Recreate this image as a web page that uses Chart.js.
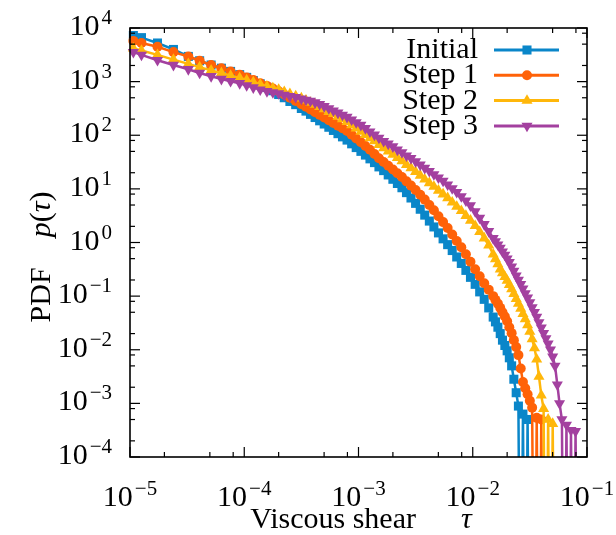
<!DOCTYPE html>
<html>
<head>
<meta charset="utf-8">
<script src="https://cdn.jsdelivr.net/npm/chart.js@4.4.1/dist/chart.umd.min.js"></script>
<style>
  html, body { margin: 0; padding: 0; background: #fff; }
  canvas { display: block; }
</style>
</head>
<body>
<canvas id="pdfChart" width="616" height="535"></canvas>
<script>
// Bin centres (viscous shear tau), shared by all four histograms
const tau = [
    1.07e-5, 1.26e-5, 1.74e-5, 2.40e-5, 3.24e-5, 4.07e-5, 5.13e-5, 6.31e-5, 7.59e-5, 9.12e-5,
    1.05e-4, 1.20e-4, 1.38e-4, 1.58e-4, 1.78e-4, 2.00e-4, 2.24e-4, 2.51e-4, 2.82e-4, 3.16e-4,
    3.47e-4, 3.80e-4, 4.17e-4, 4.57e-4, 5.01e-4, 5.50e-4, 6.03e-4, 6.61e-4, 7.24e-4, 7.94e-4,
    8.71e-4, 9.55e-4, 1.05e-3, 1.15e-3, 1.26e-3, 1.38e-3, 1.51e-3, 1.66e-3, 1.82e-3, 2.00e-3,
    2.19e-3, 2.40e-3, 2.63e-3, 2.88e-3, 3.16e-3, 3.47e-3, 3.80e-3, 4.17e-3, 4.57e-3, 5.01e-3,
    5.50e-3, 6.03e-3, 6.61e-3, 7.24e-3, 7.94e-3, 8.71e-3, 9.55e-3, 1.05e-2, 1.15e-2, 1.26e-2,
    1.38e-2, 1.51e-2, 1.58e-2, 1.66e-2, 1.74e-2, 1.82e-2, 1.91e-2, 2.00e-2, 2.09e-2, 2.19e-2,
    2.29e-2, 2.40e-2, 2.51e-2, 2.63e-2, 2.75e-2, 2.88e-2, 3.02e-2, 3.16e-2, 3.31e-2, 3.47e-2,
    3.63e-2, 3.80e-2, 3.98e-2, 4.17e-2, 4.37e-2, 4.57e-2, 4.79e-2, 5.01e-2, 5.25e-2, 5.50e-2,
    5.75e-2, 6.03e-2, 6.31e-2, 6.61e-2, 6.92e-2, 7.24e-2, 7.59e-2, 7.94e-2, 8.32e-2
];

// PDF values per bin (0 = empty bin, drawn as a drop to the bottom axis)
const initialPdf = [
    7.24e3, 6.61e3, 5.25e3, 3.98e3, 2.95e3, 2.45e3, 2.04e3, 1.78e3, 1.55e3, 1.35e3,
    1.20e3, 1.05e3, 912, 776, 676, 575, 501, 427, 372, 316,
    282, 245, 214, 186, 162, 141, 123, 107, 93.3, 81.3,
    69.2, 58.9, 50.1, 42.7, 36.3, 30.9, 25.7, 21.9, 18.2, 15.1,
    12.6, 10.5, 8.51, 6.76, 5.37, 4.17, 3.24, 2.51, 1.95, 1.51,
    1.17, 0.912, 0.708, 0.537, 0.407, 0.302, 0.224, 0.166, 0.120, 0.0871,
    0.0603, 0.0407, 0.0331, 0.0263, 0.0200, 0.0151, 0.0120, 0.00955, 0.00708, 0.00501,
    0.00282, 0.00158, 8.91e-4, 0, 6.31e-4, 0, 5.01e-4, 0
];
const step1Pdf = [
    5.75e3, 5.25e3, 4.47e3, 3.55e3, 2.95e3, 2.45e3, 2.04e3, 1.78e3, 1.55e3, 1.35e3,
    1.20e3, 1.07e3, 933, 832, 741, 661, 575, 501, 437, 380,
    339, 302, 269, 240, 214, 191, 170, 151, 135, 120,
    102, 87.1, 74.1, 63.1, 53.7, 44.7, 37.2, 31.6, 26.9, 22.9,
    19.5, 16.6, 13.8, 11.5, 9.55, 7.76, 6.31, 5.01, 3.98, 3.09,
    2.40, 1.86, 1.41, 1.07, 0.813, 0.603, 0.437, 0.316, 0.234, 0.174,
    0.132, 0.100, 0.0851, 0.0724, 0.0603, 0.0501, 0.0417, 0.0339, 0.0263, 0.0204,
    0.0151, 0.0112, 0.00794, 0.00447, 0.00251, 0.00191, 0.00148, 0.00112, 8.32e-4, 0,
    5.37e-4, 0, 5.01e-4, 0
];
const step2Pdf = [
    4.17e3, 3.80e3, 3.16e3, 2.57e3, 2.14e3, 1.86e3, 1.62e3, 1.45e3, 1.29e3, 1.17e3,
    1.07e3, 977, 891, 813, 759, 708, 646, 589, 537, 490,
    447, 407, 372, 339, 309, 275, 251, 224, 200, 178,
    155, 135, 117, 102, 89.1, 77.6, 66.1, 57.5, 50.1, 43.7,
    38.0, 33.1, 28.2, 24.5, 20.9, 17.8, 15.1, 12.9, 11.0, 9.33,
    7.94, 6.76, 5.62, 4.68, 3.89, 3.16, 2.57, 2.04, 1.58, 1.20,
    0.891, 0.603, 0.490, 0.398, 0.316, 0.269, 0.229, 0.195, 0.162, 0.135,
    0.110, 0.0891, 0.0724, 0.0589, 0.0468, 0.0372, 0.0288, 0.0219, 0.0158, 0.0107,
    0.00661, 0.00316, 0.00141, 7.94e-4, 0, 5.01e-4, 0, 4.17e-4, 0
];
const step3Pdf = [
    3.55e3, 3.16e3, 2.51e3, 2.04e3, 1.70e3, 1.45e3, 1.26e3, 1.12e3, 1.02e3, 933,
    851, 776, 708, 661, 631, 603, 562, 537, 513, 479,
    457, 437, 407, 380, 347, 316, 288, 263, 240, 219,
    195, 174, 155, 135, 117, 102, 89.1, 77.6, 69.2, 61.7,
    53.7, 47.9, 41.7, 37.2, 32.4, 28.2, 24.5, 21.4, 18.6, 16.2,
    14.1, 12.0, 10.2, 8.71, 7.24, 6.03, 4.90, 3.80, 2.88, 2.19,
    1.62, 1.20, 1.05, 0.912, 0.794, 0.676, 0.589, 0.501, 0.427, 0.355,
    0.295, 0.240, 0.200, 0.166, 0.138, 0.112, 0.0933, 0.0759, 0.0617, 0.0501,
    0.0407, 0.0324, 0.0257, 0.0204, 0.0162, 0.0129, 0.0100, 0.00741, 0.00501, 0.00224,
    0.00100, 5.01e-4, 0, 3.98e-4, 0, 3.16e-4, 0, 3.02e-4, 0
];

const seriesNames = ['Initial', 'Step 1', 'Step 2', 'Step 3'];
const seriesValues = [initialPdf, step1Pdf, step2Pdf, step3Pdf];

// Decade exponents for the tick labels, and the minor tick mantissas
const xTickExponents = [-5, -4, -3, -2, -1];
const yTickExponents = [-4, -3, -2, -1, 0, 1, 2, 3, 4];
const minorMantissas = [2, 5, 8];

const colors = ['#0a86c9', '#ff6208', '#ffb70a', '#a3409f'];
const markers = [
    { style: 'rect', radius: 6.4, rotation: 0 },
    { style: 'circle', radius: 5, rotation: 0 },
    { style: 'triangle', radius: 6.4, rotation: 0 },
    { style: 'triangle', radius: 6.4, rotation: 180 }
];

const SERIF = '"Liberation Serif", "Times New Roman", serif';
const BASE_FONT = '30px ' + SERIF;
const SUP_FONT = '21px ' + SERIF;
const ITALIC_FONT = 'italic 30px ' + SERIF;

function buildPoints(values) {
    // empty bins go far below the axis so the line drops out of the frame
    return values.map((v, i) => ({ x: tau[i], y: v > 0 ? v : 1e-9 }));
}

function drawPower(ctx, exp, x, y, align) {
    const base = '10';
    const sup = exp < 0 ? '\u2212' + (-exp) : String(exp);
    ctx.font = BASE_FONT;
    const wb = ctx.measureText(base).width;
    ctx.font = SUP_FONT;
    const ws = ctx.measureText(sup).width;
    const total = wb + 2 + ws;
    const left = align === 'center' ? x - total / 2 : x - total;
    ctx.textAlign = 'left';
    ctx.textBaseline = 'alphabetic';
    ctx.font = BASE_FONT;
    ctx.fillText(base, left, y);
    ctx.font = SUP_FONT;
    ctx.fillText(sup, left + wb + 2, y - 11);
}

function drawRun(ctx, parts, cx, y) {
    // parts: [text, font] drawn side by side, centred on cx
    let total = 0;
    parts.forEach(p => { ctx.font = p[1]; total += ctx.measureText(p[0]).width; });
    let x = cx - total / 2;
    ctx.textAlign = 'left';
    ctx.textBaseline = 'alphabetic';
    parts.forEach(p => {
        ctx.font = p[1];
        ctx.fillText(p[0], x, y);
        x += ctx.measureText(p[0]).width;
    });
}

function drawMarker(ctx, i, x, y) {
    const m = markers[i];
    ctx.fillStyle = colors[i];
    ctx.strokeStyle = colors[i];
    Chart.helpers.drawPoint(ctx, { pointStyle: m.style, radius: m.radius, rotation: m.rotation, borderWidth: 0 }, x, y);
}

const framePlugin = {
    id: 'frame',
    afterDraw(chart) {
        const ctx = chart.ctx;
        const a = chart.chartArea;
        const xs = chart.scales.x;
        const ys = chart.scales.y;
        ctx.save();
        ctx.strokeStyle = '#000';
        ctx.fillStyle = '#000';

        const line = (x1, y1, x2, y2) => {
            ctx.beginPath();
            ctx.moveTo(x1, y1);
            ctx.lineTo(x2, y2);
            ctx.stroke();
        };

        // ticks on all four sides, pointing inwards
        ctx.lineWidth = 1.2;
        xTickExponents.forEach(e => {
            const v = Math.pow(10, e);
            const px = xs.getPixelForValue(v);
            line(px, a.bottom, px, a.bottom - 10);
            line(px, a.top, px, a.top + 10);
            if (e < xTickExponents[xTickExponents.length - 1]) {
                minorMantissas.forEach(m => {
                    const q = xs.getPixelForValue(m * v);
                    line(q, a.bottom, q, a.bottom - 5);
                    line(q, a.top, q, a.top + 5);
                });
            }
        });
        yTickExponents.forEach(e => {
            const v = Math.pow(10, e);
            const py = ys.getPixelForValue(v);
            line(a.left, py, a.left + 10, py);
            line(a.right, py, a.right - 10, py);
            if (e < yTickExponents[yTickExponents.length - 1]) {
                minorMantissas.forEach(m => {
                    const q = ys.getPixelForValue(m * v);
                    line(a.left, q, a.left + 5, q);
                    line(a.right, q, a.right - 5, q);
                });
            }
        });

        ctx.lineWidth = 1.6;
        ctx.strokeRect(a.left, a.top, a.right - a.left, a.bottom - a.top);

        // tick labels
        xTickExponents.forEach(e => {
            drawPower(ctx, e, xs.getPixelForValue(Math.pow(10, e)), a.bottom + 49, 'center');
        });
        yTickExponents.forEach(e => {
            drawPower(ctx, e, a.left - 18, ys.getPixelForValue(Math.pow(10, e)) + 7, 'right');
        });

        // axis titles
        drawRun(ctx, [['Viscous shear', BASE_FONT], ['\u2003\u2002', BASE_FONT], ['\u03c4', ITALIC_FONT]], 361, 528);
        ctx.save();
        ctx.translate(50, 257);
        ctx.rotate(-Math.PI / 2);
        drawRun(ctx, [['PDF', BASE_FONT], ['\u2003', BASE_FONT], ['p', ITALIC_FONT], ['(', BASE_FONT],
            ['\u03c4', ITALIC_FONT], [')', BASE_FONT]], 0, 0);
        ctx.restore();

        // key, top right inside the frame
        seriesNames.forEach((name, i) => {
            const y = a.top + 22 + i * 25.3;
            ctx.fillStyle = '#000';
            ctx.font = BASE_FONT;
            ctx.textAlign = 'right';
            ctx.textBaseline = 'alphabetic';
            ctx.fillText(name, a.right - 109, y + 8);
            ctx.strokeStyle = colors[i];
            ctx.lineWidth = 3;
            line(a.right - 93, y, a.right - 28, y);
            drawMarker(ctx, i, a.right - 60, y);
        });
        ctx.restore();
    }
};

const datasets = seriesValues.map((values, i) => ({
    label: seriesNames[i],
    data: buildPoints(values),
    borderColor: colors[i],
    backgroundColor: colors[i],
    borderWidth: 2.5,
    pointStyle: markers[i].style,
    pointRadius: markers[i].radius,
    pointRotation: markers[i].rotation,
    pointBorderWidth: 0,
    pointHoverRadius: markers[i].radius,
    tension: 0,
    clip: { left: 8, top: 8, right: 8, bottom: 0 },
    order: seriesNames.length - i
}));

new Chart(document.getElementById('pdfChart'), {
    type: 'line',
    data: { datasets: datasets },
    options: {
        responsive: false,
        animation: false,
        devicePixelRatio: 1,
        events: [],
        layout: { padding: { left: 0, right: 29, top: 28, bottom: 0 } },
        plugins: {
            legend: { display: false },
            tooltip: { enabled: false }
        },
        scales: {
            x: {
                type: 'logarithmic',
                min: 1e-5,
                max: 1e-1,
                ticks: { display: false },
                grid: { display: false },
                border: { display: false },
                afterFit: s => { s.height = 78; }
            },
            y: {
                type: 'logarithmic',
                min: 1e-4,
                max: 1e4,
                ticks: { display: false },
                grid: { display: false },
                border: { display: false },
                afterFit: s => { s.width = 130; }
            }
        }
    },
    plugins: [framePlugin]
});
</script>
</body>
</html>
